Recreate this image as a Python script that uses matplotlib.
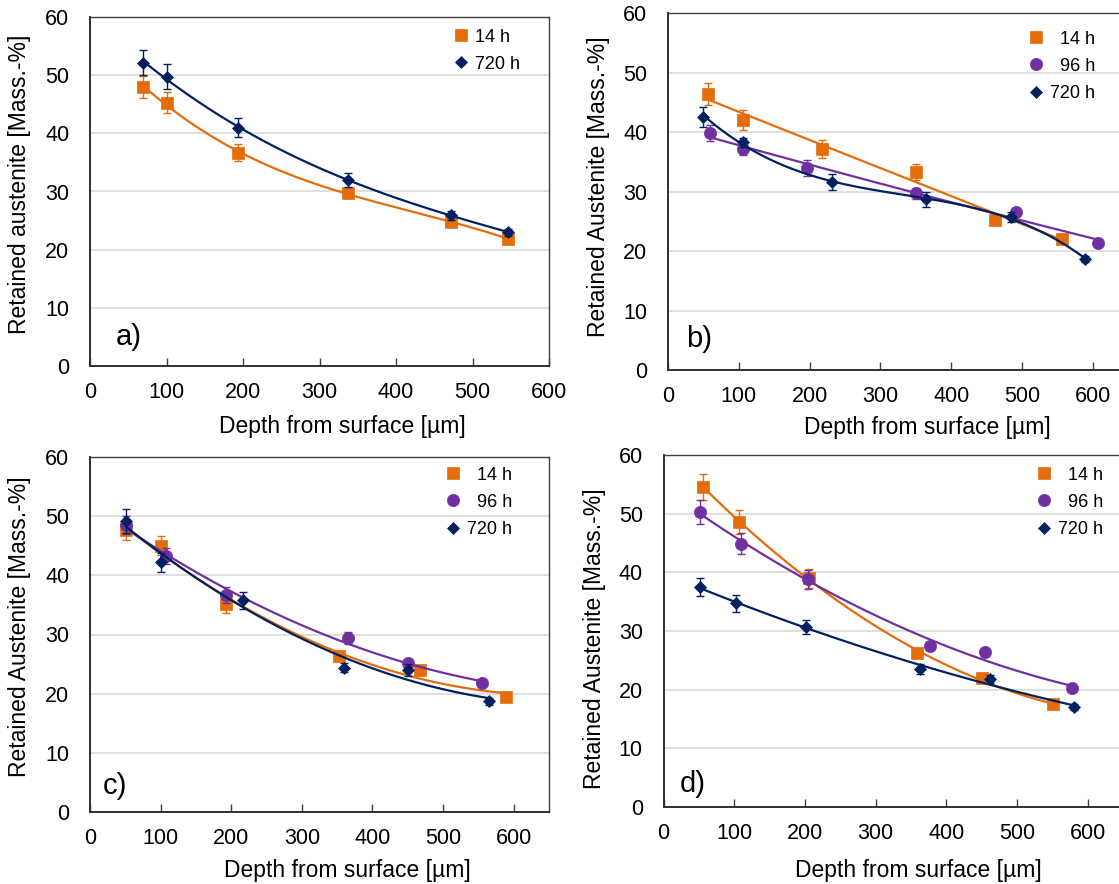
import numpy as np
import matplotlib
matplotlib.use("Agg")
import matplotlib.pyplot as plt

plt.rcParams["font.family"] = ["Liberation Sans", "DejaVu Sans"]

# ==========================
# DATA
# ==========================

# a)
a_x_14 = [69, 100, 193, 337, 472, 546]
a_y_14 = [48.0, 45.3, 36.7, 29.7, 24.7, 21.9]
a_e_14 = [1.9, 1.8, 1.5, 0.9, 0.7, 0.5]
a_x_720 = [69, 100, 193, 337, 472, 546]
a_y_720 = [52.2, 49.8, 41.0, 32.0, 25.9, 23.0]
a_e_720 = [2.1, 2.1, 1.7, 1.2, 0.8, 0.6]

# b)
b_x_14 = [56, 106, 217, 350, 462, 556]
b_y_14 = [46.5, 42.0, 37.2, 33.3, 25.3, 22.1]
b_e_14 = [1.85, 1.7, 1.5, 1.3, 0.6, 0.5]
b_x_96 = [60, 106, 196, 350, 492, 607]
b_y_96 = [39.9, 37.1, 34.0, 29.7, 26.5, 21.3]
b_e_96 = [1.3, 1.0, 1.3, 0.9, 0.6, 0.5]
b_x_720 = [50, 106, 231, 364, 484, 589]
b_y_720 = [42.6, 38.3, 31.6, 28.7, 25.7, 18.7]
b_e_720 = [1.7, 0.8, 1.3, 1.2, 0.8, 0.5]

# c)
c_x_14 = [51, 101, 193, 353, 468, 589]
c_y_14 = [47.7, 45.0, 35.1, 26.4, 24.0, 19.4]
c_e_14 = [1.7, 1.6, 1.4, 0.7, 0.6, 0.5]
c_x_96 = [51, 108, 193, 366, 450, 555]
c_y_96 = [48.5, 43.3, 36.7, 29.4, 25.1, 21.8]
c_e_96 = [1.5, 1.3, 1.3, 1.0, 0.6, 0.5]
c_x_720 = [51, 100, 216, 360, 451, 565]
c_y_720 = [49.2, 42.2, 35.8, 24.4, 24.0, 18.7]
c_e_720 = [2.1, 1.6, 1.4, 0.8, 1.0, 0.6]

# d)
d_x_14 = [56, 106, 206, 359, 450, 550]
d_y_14 = [54.6, 48.6, 39.0, 26.2, 22.0, 17.5]
d_e_14 = [2.2, 2.0, 1.6, 0.7, 0.6, 0.5]
d_x_96 = [52, 109, 204, 377, 454, 578]
d_y_96 = [50.3, 44.9, 38.8, 27.5, 26.4, 20.2]
d_e_96 = [2.0, 1.8, 1.6, 0.7, 0.6, 0.6]
d_x_720 = [51, 102, 201, 362, 461, 580]
d_y_720 = [37.5, 34.7, 30.7, 23.5, 21.8, 17.0]
d_e_720 = [1.5, 1.4, 1.2, 0.8, 0.7, 0.5]

x_ticks = [0, 100, 200, 300, 400, 500, 600]
y_ticks = [0, 10, 20, 30, 40, 50, 60]

ORANGE = "#E46C0A"
PURPLE = "#7030A0"
NAVY = "#002060"

# label, colour, marker, marker size
style = {
    "14 h": (ORANGE, "s", 8.2),
    "96 h": (PURPLE, "o", 8.8),
    "720 h": (NAVY, "D", 6.2),
}

W, H = 1119, 884
fig = plt.figure(figsize=(W / 100, H / 100), dpi=100)


def px_axes(left, top, w, h):
    return fig.add_axes([left / W, 1 - (top + h) / H, w / W, h / H])


panels = [
    # box(px), xlim, ylabel, series, fit degrees, panel label pos, xlabel center, ylabel center, legend origin
    dict(box=(90, 17.3, 459, 348.4), xlim=650 * 0 + 600,
         ylabel="Retained austenite [Mass.-%]",
         series=[("14 h", a_x_14, a_y_14, a_e_14, 3), ("720 h", a_x_720, a_y_720, a_e_720, 3)],
         tag="a)", tag_off=(26, 21), xl=(342, 427), yl=(20, 184), leg=(452, 28.5),
         names=["14 h", "720 h"]),
    dict(box=(668, 13.3, 495.6, 356.7), xlim=700,
         ylabel="Retained Austenite [Mass.-%]",
         series=[("14 h", b_x_14, b_y_14, b_e_14, 2), ("96 h", b_x_96, b_y_96, b_e_96, 2),
                 ("720 h", b_x_720, b_y_720, b_e_720, 3)],
         tag="b)", tag_off=(18, 23), xl=(927, 427), yl=(599, 186.5), leg=(1027, 30.5),
         names=["  14 h", "  96 h", "720 h"]),
    dict(box=(90, 457.3, 459, 354.4), xlim=650,
         ylabel="Retained Austenite [Mass.-%]",
         series=[("14 h", c_x_14, c_y_14, c_e_14, 2), ("96 h", c_x_96, c_y_96, c_e_96, 2),
                 ("720 h", c_x_720, c_y_720, c_e_720, 2)],
         tag="c)", tag_off=(13, 17.5), xl=(347, 870), yl=(20, 626.7), leg=(444, 466.5),
         names=["  14 h", "  96 h", "720 h"]),
    dict(box=(663.6, 455, 495, 352), xlim=700,
         ylabel="Retained Austenite [Mass.-%]",
         series=[("14 h", d_x_14, d_y_14, d_e_14, 2), ("96 h", d_x_96, d_y_96, d_e_96, 2),
                 ("720 h", d_x_720, d_y_720, d_e_720, 2)],
         tag="d)", tag_off=(16, 15), xl=(918, 870), yl=(594, 639), leg=(1035, 466.5),
         names=["  14 h", "  96 h", "720 h"]),
]

for p in panels:
    left, top, w, h = p["box"]
    ax = px_axes(left, top, w, h)

    handles = []
    for i, (key, xs, ys, es, deg) in enumerate(p["series"]):
        color, marker, ms = style[key]
        z = 2 + i
        xs = np.array(xs, dtype=float)
        ys = np.array(ys, dtype=float)
        coef = np.polyfit(xs, ys, deg)
        xf = np.linspace(xs.min(), xs.max(), 200)
        ax.plot(xf, np.polyval(coef, xf), color=color, lw=1.6, zorder=z)
        ax.errorbar(xs, ys, yerr=es, fmt="none", ecolor=color, elinewidth=1.0,
                    capsize=3, capthick=1.0, zorder=z + 0.1)
        hnd, = ax.plot(xs, ys, ls="none", marker=marker, ms=ms, color=color,
                       markeredgewidth=0.5, zorder=z + 0.2)
        handles.append(hnd)

    ax.set_xlim(0, p["xlim"])
    ax.set_ylim(0, 60)
    ax.set_xticks(x_ticks)
    ax.set_yticks(y_ticks)
    ax.tick_params(axis="x", direction="in", length=6, width=1, color="#404040",
                   labelsize=15.5, pad=11.5, labelcolor="black")
    ax.tick_params(axis="y", length=0, labelsize=15.5, pad=15, labelcolor="black")
    ax.grid(axis="y", color="#D9D9D9", lw=1.2)
    ax.set_axisbelow(True)
    for side in ["left", "bottom"]:
        ax.spines[side].set_color("#303030")
        ax.spines[side].set_linewidth(1.4)
    for side in ["top", "right"]:
        ax.spines[side].set_color("#404040")
        ax.spines[side].set_linewidth(1.0)

    # axis labels placed at pixel positions
    ax.set_xlabel("Depth from surface [μm]".replace("μ", "\u00b5"), fontsize=16.5,
                  va="center")
    ax.xaxis.set_label_coords((p["xl"][0] - left) / w, -(p["xl"][1] - (top + h)) / h)
    ax.set_ylabel(p["ylabel"], fontsize=16.5, va="center")
    ax.yaxis.set_label_coords(-(left - p["yl"][0]) / w, ((top + h) - p["yl"][1]) / h)

    ax.annotate(p["tag"], xy=(0, 0), xycoords="axes fraction", xytext=p["tag_off"],
                textcoords="offset pixels", fontsize=21, ha="left", va="baseline")

    lx, ly = p["leg"]
    ax.legend(handles, p["names"], loc="upper left",
              bbox_to_anchor=(lx / W, 1 - ly / H), bbox_transform=fig.transFigure,
              frameon=False, fontsize=13, handlelength=1.0, handletextpad=0.3,
              borderpad=0, borderaxespad=0, labelspacing=0.57, numpoints=1)

fig.savefig("out.png", dpi=100)
